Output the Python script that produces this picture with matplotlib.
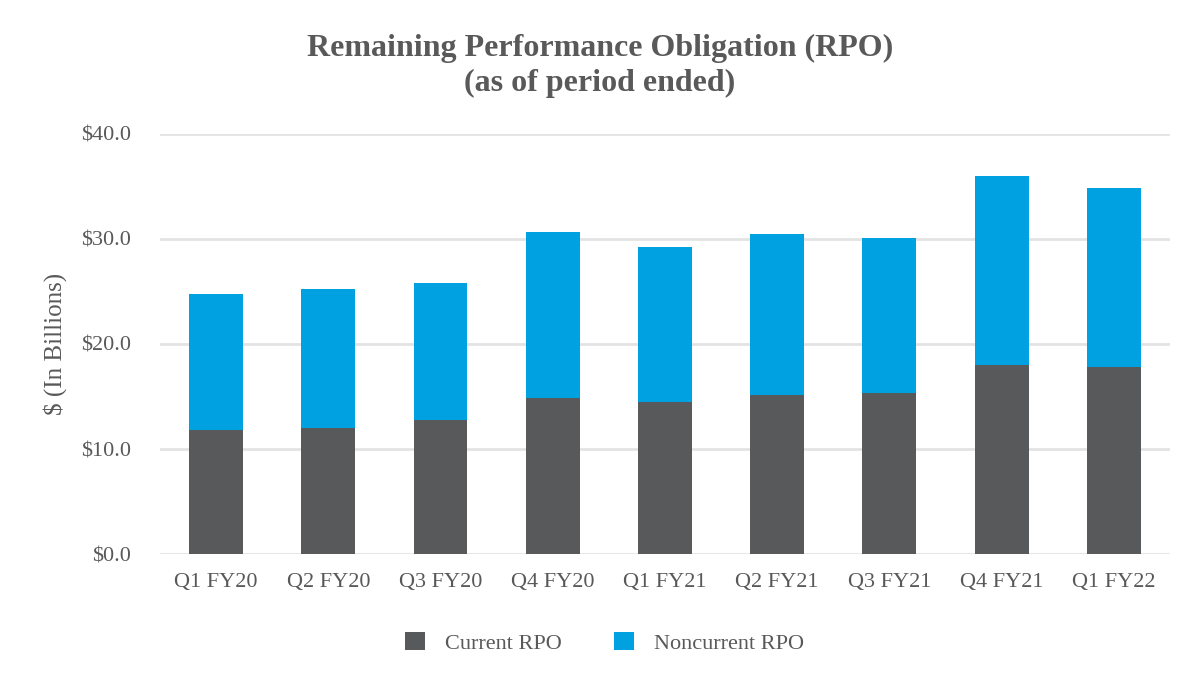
import matplotlib
matplotlib.use("Agg")
import matplotlib.pyplot as plt
import numpy as np

categories = ["Q1 FY20", "Q2 FY20", "Q3 FY20", "Q4 FY20", "Q1 FY21",
              "Q2 FY21", "Q3 FY21", "Q4 FY21", "Q1 FY22"]
current_rpo = [11.8, 12.0, 12.8, 14.9, 14.5, 15.1, 15.3, 18.0, 17.8]
total_rpo = [24.8, 25.2, 25.8, 30.7, 29.2, 30.5, 30.1, 36.0, 34.9]
noncurrent_rpo = [t - c for t, c in zip(total_rpo, current_rpo)]
yticks = [0, 10, 20, 30, 40]

plt.rcParams['font.family'] = ['Liberation Serif', 'DejaVu Serif']
text_color = "#595959"

fig = plt.figure(figsize=(12, 6.92), dpi=100)
ax = fig.add_axes([0.1333, 0.1994, 0.8417, 0.607])

x = np.arange(len(categories))
w = 0.48
ax.bar(x, current_rpo, w, color="#58595B", label="Current RPO", zorder=3)
ax.bar(x, noncurrent_rpo, w, bottom=current_rpo, color="#00A1E0",
       label="Noncurrent RPO", zorder=3)

ax.set_xlim(-0.5, len(categories) - 0.5)
ax.set_ylim(0, 40)
ax.set_yticks(yticks)
ax.set_yticklabels([f"${v:.1f}" for v in yticks])
ax.set_xticks(x)
ax.set_xticklabels(categories)
ax.tick_params(axis='both', length=0, labelsize=16, colors=text_color)
ax.tick_params(axis='y', pad=21)
ax.tick_params(axis='x', pad=14)
ax.yaxis.grid(True, color="#E3E3E3", linewidth=2, zorder=0)
for s in ax.spines.values():
    s.set_visible(False)
ax.set_ylabel("$ (In Billions)", fontsize=18, color=text_color, labelpad=10)

fig.text(0.5, 0.905, "Remaining Performance Obligation (RPO)\n(as of period ended)",
         ha="center", va="center", fontsize=23, fontweight="bold",
         color=text_color, linespacing=1.25)

leg = fig.legend(loc="center", bbox_to_anchor=(0.504, 0.071), ncol=2,
                 frameon=False, fontsize=16, handlelength=0.9,
                 handleheight=0.9, handletextpad=0.9, columnspacing=2.35)
for t in leg.get_texts():
    t.set_color(text_color)

fig.savefig("out.png", dpi=100)
